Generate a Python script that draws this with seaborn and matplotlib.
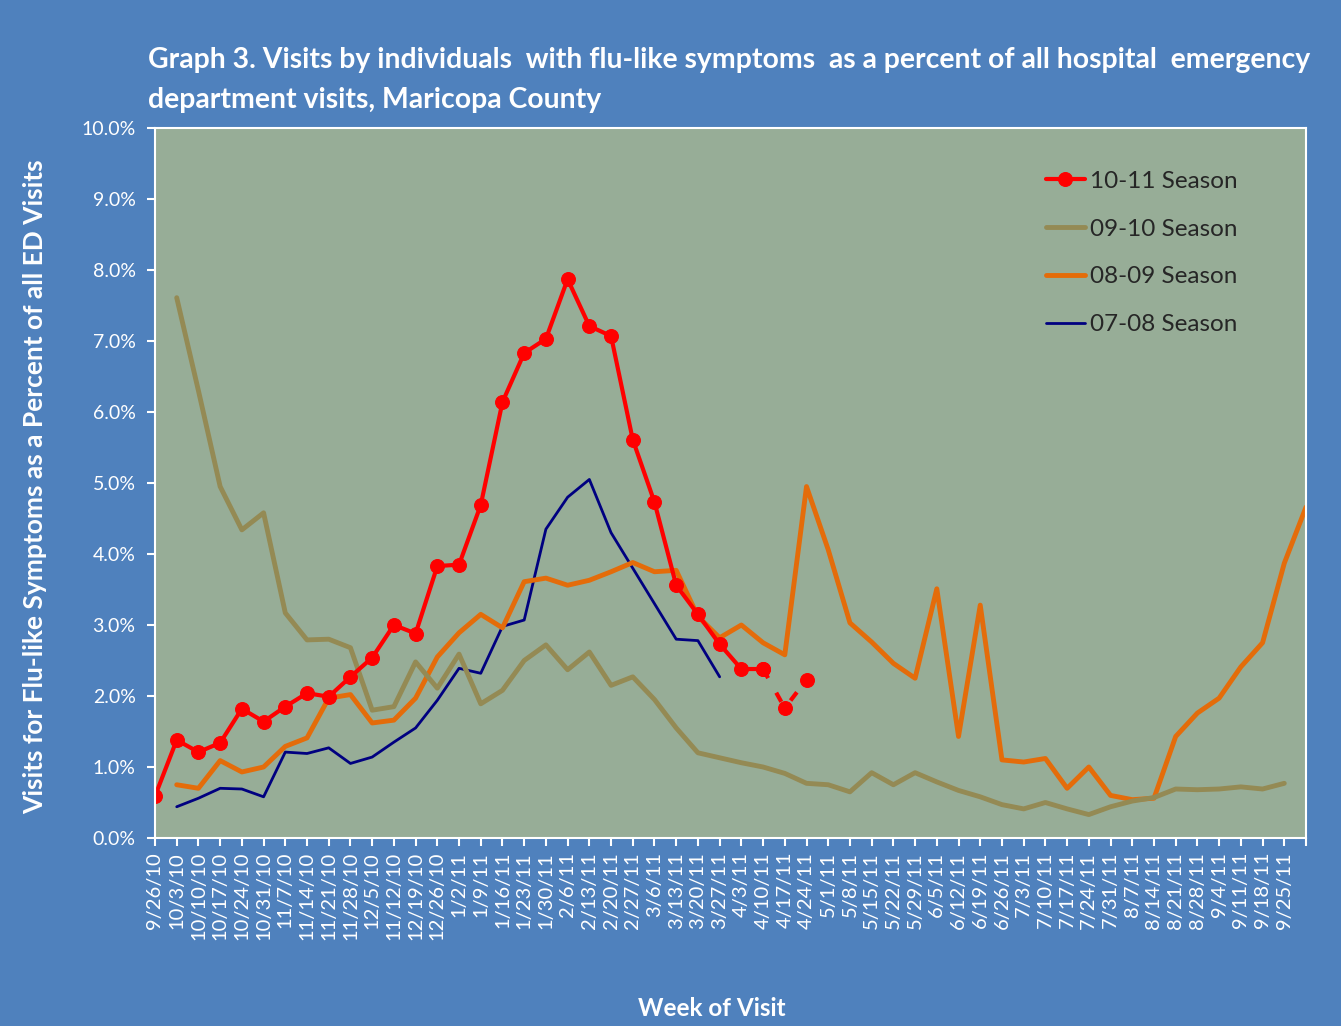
import numpy as np
import pandas as pd
import matplotlib
matplotlib.use("Agg")
import matplotlib.pyplot as plt
import seaborn as sns

# week labels (category axis)
weeks = ['9/26/10', '10/3/10', '10/10/10', '10/17/10', '10/24/10', '10/31/10', '11/7/10',
         '11/14/10', '11/21/10', '11/28/10', '12/5/10', '11/12/10', '12/19/10', '12/26/10',
         '1/2/11', '1/9/11', '1/16/11', '1/23/11', '1/30/11', '2/6/11', '2/13/11', '2/20/11',
         '2/27/11', '3/6/11', '3/13/11', '3/20/11', '3/27/11', '4/3/11', '4/10/11', '4/17/11',
         '4/24/11', '5/1/11', '5/8/11', '5/15/11', '5/22/11', '5/29/11', '6/5/11', '6/12/11',
         '6/19/11', '6/26/11', '7/3/11', '7/10/11', '7/17/11', '7/24/11', '7/31/11', '8/7/11',
         '8/14/11', '8/21/11', '8/28/11', '9/4/11', '9/11/11', '9/18/11', '9/25/11']

# 10-11 season, weeks 0..30 (last two weeks drawn dashed)
s1011 = [0.59, 1.38, 1.21, 1.34, 1.82, 1.64, 1.85, 2.04, 1.99, 2.27, 2.54, 3.00, 2.88, 3.83,
         3.85, 4.69, 6.14, 6.83, 7.03, 7.87, 7.21, 7.07, 5.61, 4.73, 3.56, 3.15, 2.73, 2.38,
         2.38, 1.83, 2.23]

# 09-10 season, weeks 1..52
s0910 = [7.61, 6.30, 4.95, 4.34, 4.58, 3.17, 2.79, 2.80, 2.68, 1.80, 1.85, 2.48, 2.11, 2.59,
         1.89, 2.08, 2.50, 2.72, 2.37, 2.62, 2.15, 2.27, 1.95, 1.55, 1.20, 1.13, 1.06, 1.00,
         0.91, 0.77, 0.75, 0.65, 0.92, 0.75, 0.92, 0.79, 0.67, 0.58, 0.47, 0.41, 0.50, 0.41,
         0.33, 0.44, 0.52, 0.57, 0.69, 0.68, 0.69, 0.72, 0.69, 0.77]

# 08-09 season, weeks 1..53
s0809 = [0.75, 0.70, 1.09, 0.93, 1.00, 1.29, 1.41, 1.97, 2.02, 1.62, 1.66, 1.97, 2.55, 2.89,
         3.15, 2.96, 3.61, 3.66, 3.56, 3.63, 3.75, 3.88, 3.75, 3.77, 3.12, 2.82, 3.00, 2.75,
         2.58, 4.95, 4.06, 3.03, 2.76, 2.46, 2.25, 3.51, 1.43, 3.28, 1.10, 1.07, 1.12, 0.70,
         1.00, 0.60, 0.54, 0.56, 1.43, 1.76, 1.97, 2.41, 2.75, 3.87, 4.66]

# 07-08 season, weeks 1..26
s0708 = [0.44, 0.56, 0.70, 0.69, 0.58, 1.21, 1.19, 1.27, 1.05, 1.14, 1.35, 1.55, 1.94, 2.39,
         2.32, 2.98, 3.07, 4.35, 4.80, 5.05, 4.30, 3.80, 3.30, 2.80, 2.78, 2.27]

sns.set_style("white")
plt.rcParams['font.family'] = ['Lato', 'DejaVu Sans']

BG = '#4F81BD'
fig = plt.figure(figsize=(13.41, 10.26), dpi=100, facecolor=BG)
ax = fig.add_axes([155 / 1341, 1 - 838 / 1026, (1306 - 155) / 1341, (838 - 128) / 1026])
ax.set_facecolor('#97AD97')

x0708 = np.arange(1, 1 + len(s0708))
x0809 = np.arange(1, 1 + len(s0809))
x0910 = np.arange(1, 1 + len(s0910))
x1011 = np.arange(len(s1011))

sns.lineplot(x=x0708, y=s0708, ax=ax, color='#000080', linewidth=2.0, label='07-08 Season')
sns.lineplot(x=x0809, y=s0809, ax=ax, color='#E46C0A', linewidth=3.5, label='08-09 Season')
sns.lineplot(x=x0910, y=s0910, ax=ax, color='#948A54', linewidth=3.5, label='09-10 Season')
sns.lineplot(x=x1011[:29], y=s1011[:29], ax=ax, color='#FF0000', linewidth=3,
             marker='o', markersize=10, markeredgecolor='#FF0000', label='10-11 Season')
sns.lineplot(x=x1011[28:], y=s1011[28:], ax=ax, color='#FF0000', linewidth=3,
             linestyle=(0, (2.5, 4)), marker='o', markersize=10, markeredgecolor='#FF0000')

ax.set_xlim(0, 53)
ax.set_ylim(0, 10)
ax.set_xticks(np.arange(0, 54))
ax.set_xticklabels(weeks + [''], rotation=90, color='white', fontsize=14.5)
ax.set_yticks(np.arange(0, 11))
ax.set_yticklabels([f'{v:.1f}%' for v in range(11)], color='white', fontsize=14)
ax.tick_params(axis='both', direction='out', length=6, width=1.5, color='white',
               bottom=True, left=True)
ax.tick_params(axis='y', pad=8)
ax.tick_params(axis='x', pad=4)
for sp in ax.spines.values():
    sp.set_color('white')
    sp.set_linewidth(1.5)
ax.set_xlabel('')
ax.set_ylabel('')

h, l = ax.get_legend_handles_labels()
order = [l.index(n) for n in ['10-11 Season', '09-10 Season', '08-09 Season', '07-08 Season']]
ax.legend([h[i] for i in order], [l[i] for i in order], loc='upper left',
          bbox_to_anchor=((1024 - 155) / 1151, 1 - (149 - 128) / 710), frameon=False,
          fontsize=17.5, handlelength=1.6, handletextpad=0.2, labelspacing=1.1)

fig.text(148 / 1341, 1 - 60 / 1026,
         'Graph 3. Visits by individuals  with flu-like symptoms  as a percent of all hospital  emergency',
         color='white', fontsize=20.4, fontweight='bold', ha='left', va='center')
fig.text(148 / 1341, 1 - 100 / 1026, 'department visits, Maricopa County',
         color='white', fontsize=20.4, fontweight='bold', ha='left', va='center')
fig.text(712 / 1341, 1 - 1008 / 1026, 'Week of Visit', color='white', fontsize=17.5,
         fontweight='bold', ha='center', va='center')
fig.text(35 / 1341, 1 - 487 / 1026,
         'Visits for Flu-like Symptoms as a Percent of all ED Visits', color='white',
         fontsize=19, fontweight='bold', ha='center', va='center', rotation=90)

fig.savefig('out.png', dpi=100, facecolor=BG)
